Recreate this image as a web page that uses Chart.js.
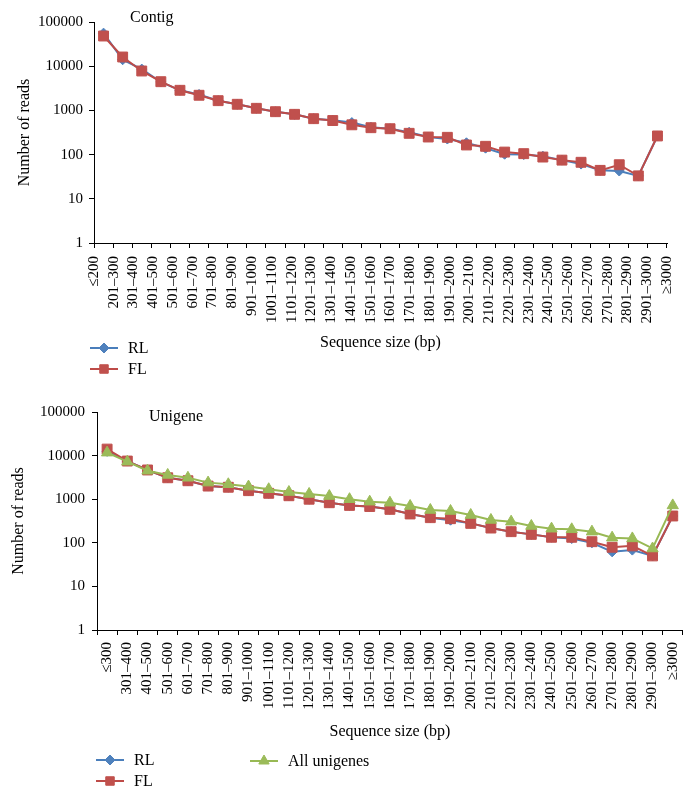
<!DOCTYPE html>
<html><head><meta charset="utf-8">
<script src="https://cdn.jsdelivr.net/npm/chart.js@4.4.1/dist/chart.umd.min.js"></script>
<style>
html,body{margin:0;padding:0;background:#fff;}
body{width:698px;height:796px;position:relative;overflow:hidden;font-family:"Liberation Serif","Times New Roman",serif;}
canvas.main{position:absolute;left:0;}
.leg{position:absolute;display:flex;align-items:center;height:16px;font-size:16px;line-height:16px;color:#000;white-space:nowrap;}
.leg canvas{display:block;}
.leg span{margin-left:10px;}
</style></head><body>
<canvas class="main" id="c1" width="698" height="390" style="top:0"></canvas>
<canvas class="main" id="c2" width="698" height="406" style="top:390px"></canvas>
<script>
// ---------- data ----------
const contigLabels = ['≤200','201–300','301–400','401–500','501–600','601–700','701–800','801–900','901–1000','1001–1100','1101–1200','1201–1300','1301–1400','1401–1500','1501–1600','1601–1700','1701–1800','1801–1900','1901–2000','2001–2100','2101–2200','2201–2300','2301–2400','2401–2500','2501–2600','2601–2700','2701–2800','2801–2900','2901–3000','≥3000'];
const contigRL = [56000,14000,8600,4400,2850,2300,1660,1375,1115,935,815,650,600,530,415,385,320,250,225,185,140,102,100,92,75,61,44,42.5,33,264];
const contigFL = [48200,16150,7790,4460,2850,2200,1660,1375,1115,935,815,650,590,472,406,385,303,250,246,165,154,114,105,88,75,67,44,59,33,264];

const unigeneLabels = ['≤300','301–400','401–500','501–600','601–700','701–800','801–900','901–1000','1001–1100','1101–1200','1201–1300','1301–1400','1401–1500','1501–1600','1601–1700','1701–1800','1801–1900','1901–2000','2001–2100','2101–2200','2201–2300','2301–2400','2401–2500','2501–2600','2601–2700','2701–2800','2801–2900','2901–3000','≥3000'];
const unigeneRL = [12500,7500,4680,3100,2650,2000,1880,1570,1365,1200,1000,830,720,680,585,458,377,330,279,218,180,156,134,125,100,62,68,50,412];
const unigeneFL = [14100,7500,4680,3100,2650,2000,1880,1570,1365,1200,1000,830,720,680,585,458,377,357,279,218,180,156,134,134,106,79,85,50,412];
const unigeneAll = [11700,7250,4500,3600,3100,2400,2200,1950,1690,1460,1320,1180,1000,877,830,698,565,536,434,334,305,243,211,204,180,131,126,74,720];

const yTicks = [1,10,100,1000,10000,100000];

// ---------- styles ----------
const serif = "'Liberation Serif','Times New Roman',serif";
const STY = {
  RL:  {borderColor:'#4A7EBB', backgroundColor:'#4F81BD', pointStyle:'rectRot', pointRadius:5},
  FL:  {borderColor:'#BE4B48', backgroundColor:'#C0504D', pointStyle:'rect', pointRadius:7},
  All: {borderColor:'#98B954', backgroundColor:'#9BBB59', pointStyle:'triangle', pointRadius:6.5}
};
function ds(label, data, st, order){
  return Object.assign({label, data, order, borderWidth:2, pointBorderWidth:1,
    pointBorderColor:st.backgroundColor, pointBackgroundColor:st.backgroundColor,
    pointHoverRadius:st.pointRadius, tension:0, fill:false}, st);
}
function yAxis(width, pad, titlePad){
  return {
    type:'logarithmic', min:1, max:100000,
    afterBuildTicks: s => { s.ticks = yTicks.map(v => ({value:v, major:true})); },
    afterFit: s => { s.width = width; },
    ticks:{callback: v => String(v), font:{family:serif,size:15}, color:'#000', padding:pad, autoSkip:false},
    grid:{drawOnChartArea:false, drawTicks:true, tickLength:5, color:'#000', lineWidth:1},
    border:{color:'#000', width:1},
    title:{display:true, text:'Number of reads', font:{family:serif,size:16}, color:'#000', padding:{top:titlePad,bottom:0}}
  };
}
const cornerTitle = {
  id:'cornerTitle',
  afterDraw(chart, args, opts){
    const {ctx, chartArea} = chart;
    ctx.save();
    ctx.font = '16px ' + serif;
    ctx.fillStyle = '#000';
    ctx.textBaseline = 'middle';
    ctx.textAlign = 'left';
    ctx.fillText(opts.text, chartArea.left + opts.dx, chartArea.top + opts.dy);
    ctx.restore();
  }
};
const common = {
  responsive:false, animation:false,
  events:[],
  plugins:{legend:{display:false}, tooltip:{enabled:false}}
};

// ---------- Contig chart ----------
const chart1 = new Chart(document.getElementById('c1'), {
  type:'line',
  data:{labels:contigLabels, datasets:[ ds('RL', contigRL, STY.RL, 1), ds('FL', contigFL, STY.FL, 0) ]},
  plugins:[cornerTitle],
  options:Object.assign({}, common, {
    layout:{padding:{left:0, right:18, top:22, bottom:35}},
    plugins:{legend:{display:false}, tooltip:{enabled:false}, cornerTitle:{text:'Contig', dx:36, dy:-4.5}},
    scales:{
      x:{type:'category', offset:true, weight:0,
         afterFit: s => { s.height = 0; },
         ticks:{display:false},
         grid:{offset:true, drawOnChartArea:false, drawTicks:true, tickLength:5, color:'#000'},
         border:{color:'#000'}},
      x2:{type:'category', labels:contigLabels, offset:false, position:'bottom', weight:1,
         afterFit: s => { s.height = 112; },
         grid:{display:false, drawTicks:false},
         border:{display:false},
         ticks:{autoSkip:false, maxRotation:90, minRotation:90, padding:13, font:{family:serif,size:15}, color:'#000'},
         title:{display:true, text:'Sequence size (bp)', font:{family:serif,size:16}, color:'#000', padding:{top:0,bottom:3}}},
      y: yAxis(94, 6, 15)
    }
  })
});

// ---------- Unigene chart ----------
const chart2 = new Chart(document.getElementById('c2'), {
  type:'line',
  data:{labels:unigeneLabels, datasets:[ ds('RL', unigeneRL, STY.RL, 2), ds('FL', unigeneFL, STY.FL, 1), ds('All unigenes', unigeneAll, STY.All, 0) ]},
  plugins:[cornerTitle],
  options:Object.assign({}, common, {
    layout:{padding:{left:0, right:15, top:22, bottom:52}},
    plugins:{legend:{display:false}, tooltip:{enabled:false}, cornerTitle:{text:'Unigene', dx:52, dy:4.5}},
    scales:{
      x:{type:'category', offset:true,
         afterFit: s => { s.height = 114; },
         grid:{offset:true, drawOnChartArea:false, drawTicks:true, tickLength:5, color:'#000'},
         border:{color:'#000'},
         ticks:{autoSkip:false, maxRotation:90, minRotation:90, padding:7, font:{family:serif,size:15}, color:'#000'},
         title:{display:true, text:'Sequence size (bp)', font:{family:serif,size:16}, color:'#000', padding:{top:0,bottom:3}}},
      y: yAxis(97, 7, 9.5)
    }
  })
});

// ---------- HTML legends (markers drawn with Chart.js helpers) ----------
function legendItem(chart, dsIndex, left, cy, radius){
  const d = chart.data.datasets[dsIndex];
  const div = document.createElement('div');
  div.className = 'leg';
  div.style.left = left + 'px';
  div.style.top = (cy - 8) + 'px';
  const cv = document.createElement('canvas');
  cv.width = 28; cv.height = 16;
  const ctx = cv.getContext('2d');
  ctx.strokeStyle = d.borderColor; ctx.lineWidth = 2;
  ctx.beginPath(); ctx.moveTo(0, 8); ctx.lineTo(28, 8); ctx.stroke();
  ctx.fillStyle = d.backgroundColor; ctx.strokeStyle = d.backgroundColor; ctx.lineWidth = 1;
  Chart.helpers.drawPoint(ctx, {pointStyle:d.pointStyle, radius:radius, rotation:0, borderWidth:1}, 14, 8);
  const sp = document.createElement('span');
  sp.textContent = d.label;
  div.appendChild(cv); div.appendChild(sp);
  document.body.appendChild(div);
}
legendItem(chart1, 0, 90, 348, 5);
legendItem(chart1, 1, 90, 369, 6);
legendItem(chart2, 0, 96, 760, 5);
legendItem(chart2, 1, 96, 781, 6);
legendItem(chart2, 2, 250, 761, 6);
</script>
</body></html>
